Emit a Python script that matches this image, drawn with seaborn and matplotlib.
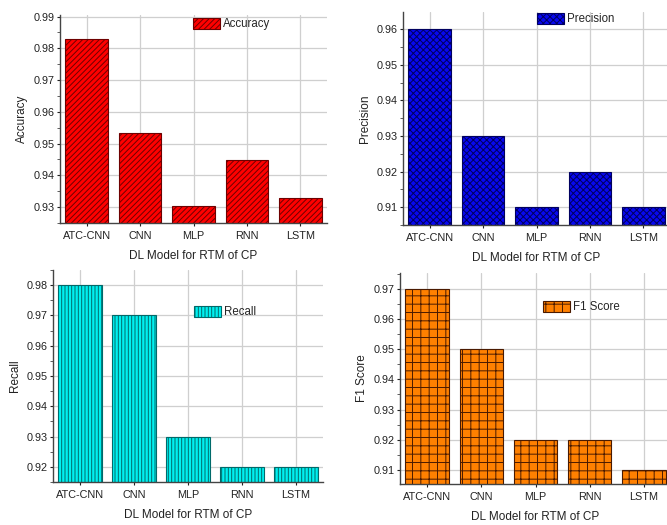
"""
Four-panel comparison of DL models for RTM of CP (accuracy, precision, recall, F1).
"""

import numpy as np
import pandas as pd
import matplotlib
matplotlib.use("Agg")
import matplotlib.pyplot as plt
from matplotlib.ticker import MultipleLocator, FormatStrFormatter
import seaborn as sns

# data
models = ["ATC-CNN", "CNN", "MLP", "RNN", "LSTM"]
accuracy = [0.983, 0.9533, 0.9302, 0.9448, 0.9329]
precision = [0.96, 0.93, 0.91, 0.92, 0.91]
recall = [0.98, 0.97, 0.93, 0.92, 0.92]
f1_score = [0.97, 0.95, 0.92, 0.92, 0.91]

x_label = "DL Model for RTM of CP"

sns.set_style("whitegrid")
plt.rcParams["font.family"] = ["Liberation Sans", "DejaVu Sans"]
plt.rcParams["hatch.linewidth"] = 0.7

W, H = 667, 525
fig = plt.figure(figsize=(W / 100, H / 100), dpi=100)

# panel settings: name, values, face, hatch colour, hatch, axes box (px), ylim, yticks, legend anchor (px)
panels = [
    ("Accuracy", accuracy, "#ff0000", "#6e0000", "//////",
     (60, 15, 327, 223), (0.925, 0.9905), (0.93, 0.99), (193, 24)),
    ("Precision", precision, "#0808f0", "#000060", "xxxxx",
     (403, 12, 670, 225), (0.905, 0.9648), (0.91, 0.96), (537, 19)),
    ("Recall", recall, "#00f0f0", "#006a6a", "|||||",
     (53, 270, 323, 482), (0.915, 0.985), (0.92, 0.98), (194, 312)),
    ("F1 Score", f1_score, "#ff8000", "#4a1a00", "++",
     (400, 273, 671, 484), (0.9053, 0.9753), (0.91, 0.97), (543, 307)),
]

for name, vals, face, edge, hatch, box, ylim, yt, leg in panels:
    x0, y0, x1, y1 = box
    ax = fig.add_axes([x0 / W, 1 - y1 / H, (x1 - x0) / W, (y1 - y0) / H])
    df = pd.DataFrame({"model": models, "value": vals})
    sns.barplot(data=df, x="model", y="value", color=face, saturation=1,
                edgecolor=edge, linewidth=0.8, hatch=hatch, width=0.8,
                label=name, ax=ax, zorder=2)

    ax.set_xlim(-0.5, 4.5)
    ax.set_ylim(*ylim)
    ax.set_yticks(np.round(np.arange(yt[0], yt[1] + 0.001, 0.01), 2))
    ax.yaxis.set_minor_locator(MultipleLocator(0.005))
    ax.yaxis.set_major_formatter(FormatStrFormatter("%.2f"))

    ax.grid(True, axis="both", color="#cfcfcf", linewidth=0.9, zorder=0)
    ax.set_axisbelow(True)
    for side in ["top", "right"]:
        ax.spines[side].set_visible(False)
    for side in ["left", "bottom"]:
        ax.spines[side].set_color("#444444")
        ax.spines[side].set_linewidth(1.0)

    ax.tick_params(axis="both", which="major", labelsize=7.8, colors="#222222",
                   length=2.5, width=0.8, direction="out", left=True, bottom=True)
    ax.tick_params(axis="y", which="major", pad=1.2)
    ax.tick_params(axis="y", which="minor", length=2, width=0.6, left=True,
                   color="#444444")
    ax.set_xlabel(x_label, fontsize=8.5, color="#222222", labelpad=6)
    ax.set_ylabel(name, fontsize=8.5, color="#222222", labelpad=4)

    ax.legend(loc="center left", bbox_to_anchor=(leg[0] / W, 1 - leg[1] / H),
              bbox_transform=fig.transFigure, frameon=False, fontsize=8.3,
              handlelength=2.3, handleheight=1.2, handletextpad=0.3,
              borderpad=0, borderaxespad=0)

plt.savefig("out.png", dpi=100)
plt.close()
